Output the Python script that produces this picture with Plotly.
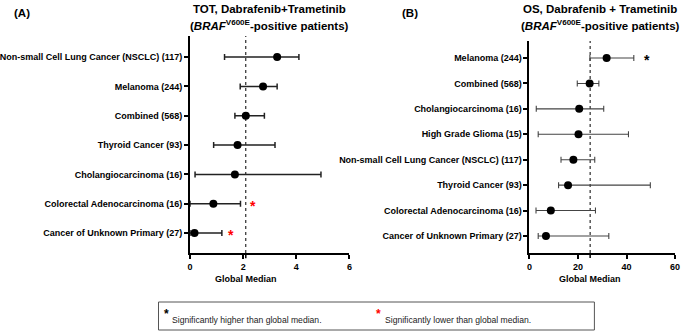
import plotly.graph_objects as go

# ---- Data: panel A (TOT) ----
tot_labels = ["Non-small Cell Lung Cancer (NSCLC) (117)", "Melanoma (244)", "Combined (568)",
              "Thyroid Cancer (93)", "Cholangiocarcinoma (16)", "Colorectal Adenocarcinoma (16)",
              "Cancer of Unknown Primary (27)"]
tot_median = [3.28, 2.75, 2.1, 1.79, 1.69, 0.88, 0.17]
tot_lower = [1.30, 1.89, 1.69, 0.89, 0.19, 0.0, 0.0]
tot_upper = [4.10, 3.28, 2.80, 3.20, 4.93, 1.90, 1.20]
tot_sig = ["", "", "", "", "", "low", "low"]
tot_global = 2.1
tot_ticks = [0, 2, 4, 6]

# ---- Data: panel B (OS) ----
os_labels = ["Melanoma (244)", "Combined (568)", "Cholangiocarcinoma (16)", "High Grade Glioma (15)",
             "Non-small Cell Lung Cancer (NSCLC) (117)", "Thyroid Cancer (93)",
             "Colorectal Adenocarcinoma (16)", "Cancer of Unknown Primary (27)"]
os_median = [31.8, 24.8, 20.5, 20.2, 18.1, 15.9, 8.8, 6.8]
os_lower = [24.9, 19.7, 2.8, 3.6, 13.0, 12.0, 2.7, 3.6]
os_upper = [43.0, 28.6, 30.6, 40.8, 26.9, 49.8, 27.2, 32.7]
os_sig = ["high", "", "", "", "", "", "", ""]
os_global = 25.0
os_ticks = [0, 20, 40, 60]

W, H = 685, 331
def px(x): return x / W
def py(y): return 1 - y / H

FONT = "Liberation Sans, Arial"
fig = go.Figure()

def add_panel(labels, med, lo, hi, xa, ya, lw, col):
    idx = list(range(len(labels)))
    fig.add_trace(go.Scatter(
        x=med, y=idx, mode="markers", xaxis=xa, yaxis=ya,
        marker=dict(color="black", size=8),
        error_x=dict(type="data", symmetric=False,
                     array=[h - m for h, m in zip(hi, med)],
                     arrayminus=[m - l for m, l in zip(med, lo)],
                     color=col, thickness=lw, width=3),
        showlegend=False, cliponaxis=False))

add_panel(tot_labels, tot_median, tot_lower, tot_upper, "x", "y", 1.5, "#222")
add_panel(os_labels, os_median, os_lower, os_upper, "x2", "y2", 1.1, "#444")

tickfont = dict(family=FONT, size=9, color="black")
axis_common = dict(showgrid=False, zeroline=False, showline=True, linecolor="black",
                   linewidth=2, ticks="outside", tickcolor="black", tickwidth=1.5,
                   tickfont=tickfont)

fig.update_layout(
    width=W, height=H, margin=dict(l=0, r=0, t=0, b=0),
    plot_bgcolor="white", paper_bgcolor="white",
    xaxis=dict(domain=[px(187), px(349)], range=[0, 6],
               tickvals=tot_ticks, ticktext=[f"<b>{t}</b>" for t in tot_ticks],
               ticklen=4, anchor="y", **axis_common),
    yaxis=dict(domain=[py(253), py(36)], range=[len(tot_labels) - 1 + 0.68, -0.72],
               tickvals=list(range(len(tot_labels))),
               ticktext=[f"<b>{t}</b>" for t in tot_labels],
               ticklen=4, anchor="x", **axis_common),
    xaxis2=dict(domain=[px(532), px(680)], range=[0, 60],
                tickvals=os_ticks, ticktext=[f"<b>{t}</b>" for t in os_ticks],
                ticklen=4, anchor="y2", **axis_common),
    yaxis2=dict(domain=[py(253), py(41)], range=[len(os_labels) - 1 + 0.67, -0.67],
                tickvals=list(range(len(os_labels))),
                ticktext=[f"<b>{t}</b>" for t in os_labels],
                ticklen=4, anchor="x2", **axis_common),
)

# dotted global-median lines and the extra tick mark at the global median
for xr, yr, g in [("x", "y domain", tot_global), ("x2", "y2 domain", os_global)]:
    fig.add_shape(type="line", xref=xr, yref=yr, x0=g, x1=g, y0=0, y1=1,
                  line=dict(color="black", width=1, dash="dot"), layer="below")
    fig.add_shape(type="line", xref=xr, yref=yr, x0=g, x1=g, y0=0, y1=-0.024,
                  line=dict(color="black", width=1.5))

font_b = dict(family=FONT, size=9, color="black")
# "Global Median" labels
for xr, g in [("x", tot_global), ("x2", os_global)]:
    fig.add_annotation(x=g, xref=xr, y=py(279), yref="paper", text="<b>Global Median</b>",
                       showarrow=False, font=font_b, xanchor="center", yanchor="middle")

# significance stars
def add_stars(sig, hi, xr, yr, shifts):
    for i, s in enumerate(sig):
        if s:
            fig.add_annotation(x=hi[i], y=i, xref=xr, yref=yr, text="<b>*</b>", showarrow=False,
                               xanchor="left", yanchor="middle", xshift=shifts.get(i, 8), yshift=-2,
                               font=dict(family=FONT, size=14,
                                         color="red" if s == "low" else "black"))

add_stars(tot_sig, tot_upper, "x", "y", {5: 8, 6: 4})
add_stars(os_sig, os_upper, "x2", "y2", {0: 8})

# titles
title_font = dict(family=FONT, size=11.5, color="black")
for xc, line1 in [(268, "TOT, Dabrafenib+Trametinib"), (604, "OS, Dabrafenib + Trametinib")]:
    fig.add_annotation(x=px(xc), y=py(9), xref="paper", yref="paper", showarrow=False,
                       text=f"<b>{line1}</b>", font=title_font, xanchor="center", yanchor="middle")
    fig.add_annotation(x=px(xc), y=py(25), xref="paper", yref="paper", showarrow=False,
                       text="<b>(<i>BRAF</i><sup>V600E</sup>-positive patients)</b>",
                       font=title_font, xanchor="center", yanchor="middle")
for xc, lab in [(16, "(A)"), (411, "(B)")]:
    fig.add_annotation(x=px(xc), y=py(13), xref="paper", yref="paper", showarrow=False,
                       text=f"<b>{lab}</b>", font=title_font, xanchor="center", yanchor="middle")

# significance key box
fig.add_shape(type="rect", xref="paper", yref="paper", x0=px(155), x1=px(598), y0=py(330), y1=py(302),
              line=dict(color="#555", width=1), fillcolor="white")
key_font = dict(family=FONT, size=8.6, color="#222")
for xs, col, txt in [(163, "black", "Significantly higher than global median."),
                     (379, "red", "Significantly lower than global median.")]:
    fig.add_annotation(x=px(xs), y=py(314), xref="paper", yref="paper", showarrow=False,
                       text="<b>*</b>", font=dict(family=FONT, size=12, color=col),
                       xanchor="center", yanchor="middle")
    fig.add_annotation(x=px(xs + 4), y=py(320), xref="paper", yref="paper", showarrow=False,
                       text=txt, font=key_font, xanchor="left", yanchor="middle")

fig.write_html("out.html", config={"displayModeBar": False},
               post_script="document.body.style.margin='0';")
